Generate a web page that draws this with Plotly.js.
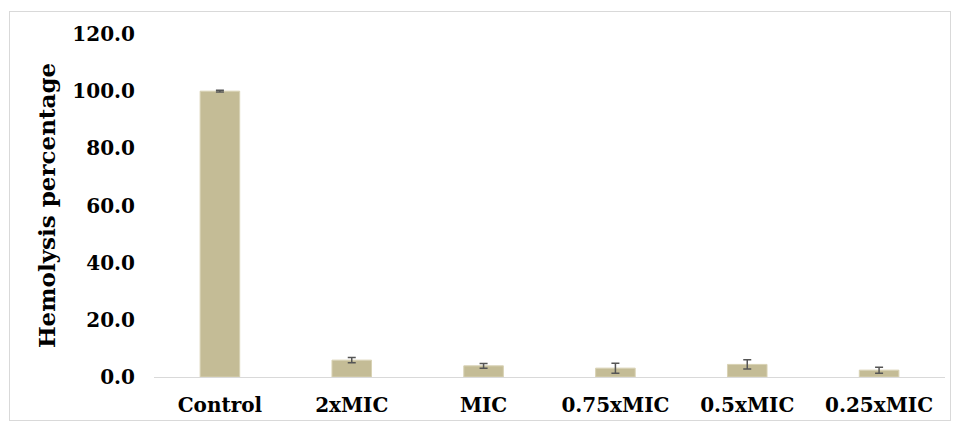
<!DOCTYPE html>
<html><head><meta charset="utf-8">
<script src="https://cdn.plot.ly/plotly-3.0.1.min.js"></script>
<style>
body{margin:0;background:#fff;}
#chart{width:953px;height:423px;position:absolute;left:0;top:0;}
#frame{position:absolute;left:9px;top:11px;width:940px;height:408px;border:1px solid #d9d9d9;pointer-events:none;}
</style></head>
<body>
<div id="chart"></div>
<div id="frame"></div>
<script>
const categories = ["Control","2xMIC","MIC","0.75xMIC","0.5xMIC","0.25xMIC"];
const values = [100.0, 5.9, 3.9, 3.1, 4.4, 2.4];
const errors = [0.3, 0.9, 0.8, 1.75, 1.6, 1.05];
const yTicks = [0,20,40,60,80,100,120];
const yTickLabels = ["0.0","20.0","40.0","60.0","80.0","100.0","120.0"];

const fam = "DejaVu Serif, Liberation Serif, serif";

Plotly.newPlot("chart", [{
  type:"bar", x:categories, y:values,
  marker:{color:"#C4BC96", line:{color:"#D8D2B4", width:1}},
  error_y:{type:"data", array:errors, visible:true, color:"#555", thickness:1.5, width:4},
  hoverinfo:"none"
}], {
  width:953, height:423,
  margin:{l:154, r:8, t:34, b:46},
  paper_bgcolor:"#fff", plot_bgcolor:"#fff",
  bargap:0.7,
  showlegend:false,
  font:{family:fam, color:"#000", size:20},
  xaxis:{showline:true, linecolor:"#d9d9d9", linewidth:1, ticks:"", showgrid:false,
         ticklabelstandoff:10,
         tickfont:{family:fam, size:20, color:"#000", weight:"bold"}},
  yaxis:{range:[0,120], tickvals:yTicks, ticktext:yTickLabels, showgrid:false, zeroline:false,
         showline:false, ticks:"", ticklabelstandoff:18,
         tickfont:{family:fam, size:20, color:"#000", weight:"bold"},
         title:{text:"Hemolysis percentage", standoff:10,
                font:{family:fam, size:23, color:"#000", weight:"bold"}}}
}, {staticPlot:true});
</script>
</body></html>
